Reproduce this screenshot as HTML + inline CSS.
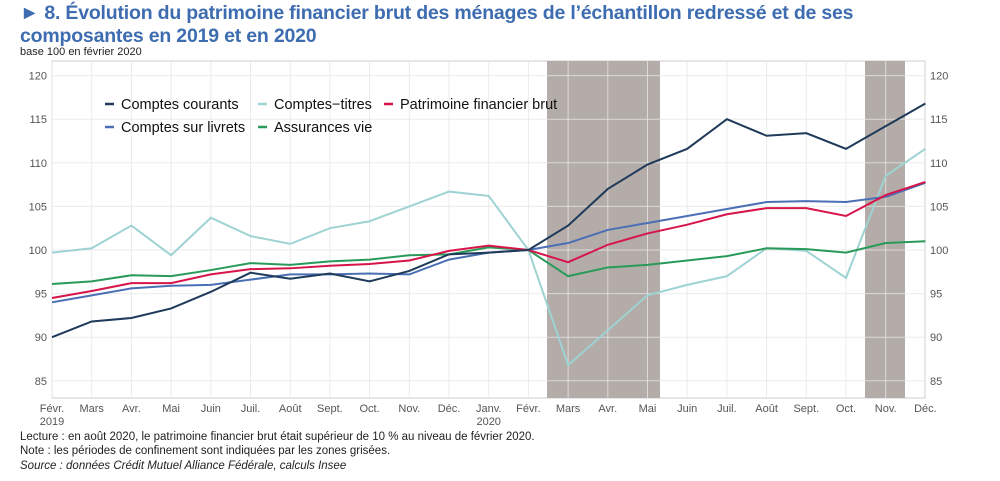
<!DOCTYPE html>
<html><head><meta charset="utf-8"><style>
body{margin:0;width:1000px;height:481px;background:#fff;overflow:hidden;font-family:"Liberation Sans",sans-serif;}
.t{position:absolute;left:20px;top:2px;color:#3d6cb0;font-weight:bold;font-size:19.5px;line-height:23px;letter-spacing:-0.2px}
.b{position:absolute;left:20px;top:46px;font-size:11px;color:#222}
.n{position:absolute;left:20px;font-size:11.5px;color:#222}
</style></head><body>
<div class="t">► 8. Évolution du patrimoine financier brut des ménages de l’échantillon redressé et de ses<br>composantes en 2019 et en 2020</div>
<div class="b">base 100 en février 2020</div>
<svg id="s" width="1000" height="481" style="position:absolute;left:0;top:0"></svg>
<div class="n" style="top:431px">Lecture : en août 2020, le patrimoine financier brut était supérieur de 10 % au niveau de février 2020.</div>
<div class="n" style="top:445px">Note : les périodes de confinement sont indiquées par les zones grisées.</div>
<div class="n" style="top:460px;font-style:italic">Source : données Crédit Mutuel Alliance Fédérale, calculs Insee</div>
<script>
var X=i=>52+i*39.7, Y=v=>250-(v-100)*8.72, h='';
h+='<rect x="52" y="61" width="873" height="337" fill="#fff" stroke="#ccc"/>';
h+='<rect x="547" y="61" width="113" height="337" fill="#b3aca8"/><rect x="865" y="61" width="40" height="337" fill="#b3aca8"/>';
for(var i=0;i<23;i++)h+='<line x1="'+X(i)+'" x2="'+X(i)+'" y1="61" y2="398" stroke="#e6e6e6" stroke-opacity="0.8"/>';
for(var v=85;v<=120;v+=5){var y=Y(v);h+='<line x1="52" x2="925" y1="'+y+'" y2="'+y+'" stroke="#e6e6e6" stroke-opacity="0.8"/>';
h+='<text x="47" y="'+(y+4)+'" font-size="11" fill="#555" text-anchor="end">'+v+'</text><text x="930" y="'+(y+4)+'" font-size="11" fill="#555">'+v+'</text>';}
var m=['Févr.','Mars','Avr.','Mai','Juin','Juil.','Août','Sept.','Oct.','Nov.','Déc.','Janv.','Févr.','Mars','Avr.','Mai','Juin','Juil.','Août','Sept.','Oct.','Nov.','Déc.'];
m.forEach((t,i)=>{h+='<text x="'+X(i)+'" y="412" font-size="11" fill="#555" text-anchor="middle">'+t+'</text>';});
h+='<text x="'+X(0)+'" y="425" font-size="11" fill="#555" text-anchor="middle">2019</text><text x="'+X(11)+'" y="425" font-size="11" fill="#555" text-anchor="middle">2020</text>';
var S=[['#9fd3d3',[99.7,100.2,102.8,99.4,103.7,101.6,100.7,102.5,103.3,105,106.7,106.2,100,86.8,90.8,94.8,96,97,100.2,99.9,96.8,108.5,111.6]],
['#2a9a5a',[96.1,96.4,97.1,97,97.7,98.5,98.3,98.7,98.9,99.4,99.5,100.3,100,97,98,98.3,98.8,99.3,100.2,100.1,99.7,100.8,101]],
['#4a6fb5',[94,94.8,95.6,95.9,96,96.6,97.2,97.2,97.3,97.2,98.9,99.7,100,100.8,102.3,103.1,103.9,104.7,105.5,105.6,105.5,106.1,107.7]],
['#d6154a',[94.5,95.3,96.2,96.2,97.2,97.8,97.9,98.2,98.4,98.8,99.9,100.5,100,98.6,100.6,101.9,102.9,104.1,104.8,104.8,103.9,106.3,107.8]],
['#1f3a5a',[90,91.8,92.2,93.3,95.2,97.4,96.7,97.3,96.4,97.6,99.5,99.7,100,102.8,107,109.8,111.6,115,113.1,113.4,111.6,114.2,116.8]]];
S.forEach(s=>{h+='<polyline fill="none" stroke="'+s[0]+'" stroke-width="2" points="'+s[1].map((v,i)=>X(i)+','+Y(v)).join(' ')+'"/>';});
var L=[[105,104,'#1f3a5a','Comptes courants'],[258,104,'#9fd3d3','Comptes−titres'],[384,104,'#d6154a','Patrimoine financier brut'],[105,127,'#4a6fb5','Comptes sur livrets'],[258,127,'#2a9a5a','Assurances vie']];
L.forEach(l=>{h+='<line x1="'+l[0]+'" x2="'+(l[0]+9)+'" y1="'+l[1]+'" y2="'+l[1]+'" stroke="'+l[2]+'" stroke-width="2.5"/><text x="'+(l[0]+16)+'" y="'+(l[1]+5)+'" font-size="14.5" fill="#111">'+l[3]+'</text>';});
document.getElementById('s').innerHTML=h;
</script>
</body></html>
